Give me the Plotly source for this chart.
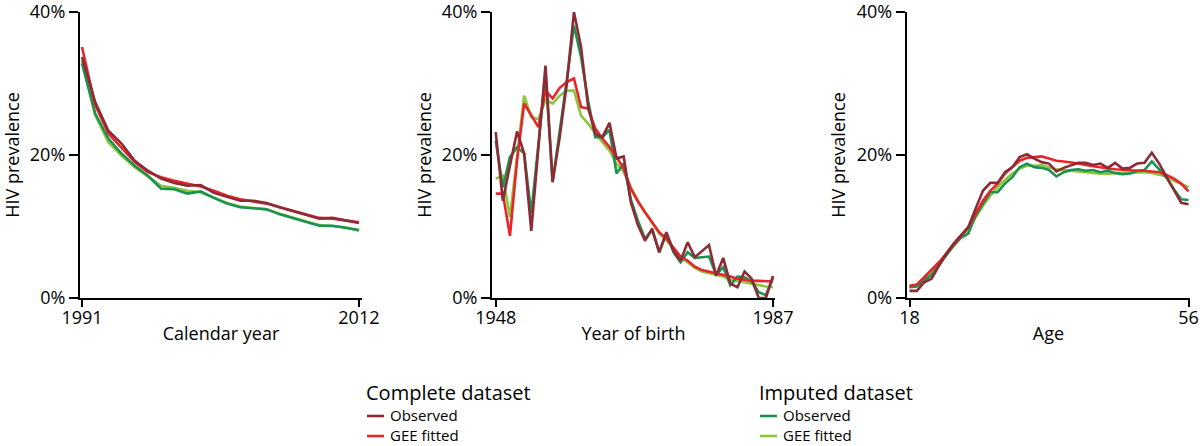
import plotly.graph_objects as go

# ---------------- Data ----------------
years = list(range(1991, 2013))
cy_obs_complete = [33.7, 27.4, 23.4, 21.6, 19.2, 17.8, 16.7, 16.1, 15.7, 15.8, 14.7, 14.1,
                   13.6, 13.6, 13.3, 12.7, 12.2, 11.7, 11.1, 11.2, 10.8, 10.5]
cy_gee_complete = [35.1, 27.0, 23.0, 21.0, 19.0, 17.6, 16.9, 16.4, 16.0, 15.6, 15.0, 14.3,
                   13.8, 13.5, 13.2, 12.7, 12.2, 11.7, 11.2, 11.1, 10.9, 10.6]
cy_obs_imputed = [32.8, 25.8, 22.3, 20.2, 18.5, 17.1, 15.3, 15.2, 14.6, 14.9, 14.0, 13.2,
                  12.7, 12.6, 12.4, 11.7, 11.2, 10.6, 10.1, 10.1, 9.8, 9.5]
cy_gee_imputed = [33.2, 25.6, 21.8, 19.9, 18.3, 17.0, 15.7, 15.4, 15.0, 14.8, 14.1, 13.3,
                  12.8, 12.6, 12.4, 11.8, 11.2, 10.7, 10.2, 10.1, 9.9, 9.4]

birth_years = list(range(1948, 1988))
yb_obs_complete = [23.2, 13.6, 18.5, 23.3, 20.2, 9.4, 21.0, 32.5, 16.2, 22.5, 30.0, 40.0,
                   35.1, 26.7, 23.0, 22.5, 24.5, 19.5, 19.8, 13.4, 10.2, 8.0, 9.7, 6.4,
                   9.2, 6.6, 5.2, 7.8, 5.7, 6.6, 7.4, 3.1, 5.6, 2.0, 1.5, 3.7, 2.7, 0.0,
                   0.0, 3.1]
yb_gee_complete = [14.6, 14.6, 8.7, 19.2, 27.2, 25.5, 23.9, 29.0, 27.9, 29.4, 30.2, 30.7,
                   26.7, 26.5, 23.7, 22.3, 21.1, 19.7, 18.1, 15.3, 13.5, 12.0, 10.6, 9.2,
                   8.3, 7.1, 5.8, 5.2, 4.4, 3.9, 3.7, 3.4, 3.2, 3.0, 2.7, 2.5, 2.4, 2.4,
                   2.3, 2.3]
yb_obs_imputed = [22.0, 15.5, 19.7, 21.1, 20.2, 11.8, 21.5, 31.5, 16.2, 23.0, 30.5, 38.1,
                  33.7, 27.6, 22.5, 22.5, 23.5, 17.4, 18.8, 13.8, 10.8, 8.3, 9.5, 6.4,
                  9.0, 6.4, 5.0, 6.4, 5.6, 5.7, 5.8, 3.3, 4.3, 1.8, 3.0, 2.9, 2.3, 0.8,
                  0.4, 2.8]
yb_gee_imputed = [16.7, 17.1, 11.3, 20.2, 28.3, 25.3, 25.0, 27.7, 27.2, 28.3, 29.0, 29.0,
                  25.5, 24.4, 23.0, 21.8, 20.6, 18.8, 17.6, 15.5, 13.6, 12.0, 10.4, 9.0,
                  8.1, 6.9, 5.7, 5.0, 4.2, 3.7, 3.5, 3.2, 3.0, 2.6, 2.4, 2.2, 2.0, 1.7,
                  1.6, 1.5]

ages = list(range(18, 57))
ag_obs_complete = [1.0, 1.0, 2.2, 2.7, 4.5, 6.2, 7.6, 8.7, 9.9, 12.5, 15.0, 16.1, 16.1,
                   17.6, 18.3, 19.7, 20.1, 19.5, 19.0, 18.8, 17.7, 18.2, 18.5, 18.9,
                   18.9, 18.6, 18.8, 18.2, 18.9, 18.1, 18.2, 18.8, 18.9, 20.3, 18.8,
                   16.9, 15.0, 13.3, 13.1]
ag_gee_complete = [1.7, 1.9, 2.9, 3.9, 5.0, 6.2, 7.4, 8.6, 9.9, 11.8, 13.6, 15.0, 16.0,
                   17.4, 18.3, 19.2, 19.6, 19.7, 19.8, 19.5, 19.2, 19.1, 19.0, 18.8,
                   18.6, 18.4, 18.3, 18.1, 18.0, 17.9, 17.9, 17.8, 17.8, 17.7, 17.6,
                   17.2, 16.7, 16.0, 14.9]
ag_obs_imputed = [1.5, 1.6, 2.5, 3.2, 4.6, 6.0, 7.3, 8.4, 9.0, 11.5, 13.2, 14.8, 14.8,
                  16.0, 16.9, 18.3, 18.8, 18.3, 18.2, 17.9, 17.0, 17.6, 17.9, 18.0,
                  17.8, 17.9, 17.6, 17.8, 17.5, 17.3, 17.4, 17.8, 17.9, 19.1, 18.0,
                  16.8, 15.2, 13.8, 13.7]
ag_gee_imputed = [1.5, 1.8, 2.7, 3.6, 4.8, 6.0, 7.3, 8.6, 9.5, 11.3, 12.9, 14.3, 15.5,
                  16.5, 17.4, 18.1, 18.5, 18.5, 18.6, 18.3, 18.0, 17.9, 17.8, 17.6,
                  17.5, 17.4, 17.4, 17.4, 17.5, 17.5, 17.5, 17.6, 17.6, 17.5, 17.3,
                  17.0, 16.4, 16.0, 15.5]

panel_x = [years, birth_years, ages]
panel_series = [
    (cy_gee_imputed, cy_obs_imputed, cy_gee_complete, cy_obs_complete),
    (yb_gee_imputed, yb_obs_imputed, yb_gee_complete, yb_obs_complete),
    (ag_gee_imputed, ag_obs_imputed, ag_gee_complete, ag_obs_complete),
]
x_titles = ["Calendar year", "Year of birth", "Age"]
x_ticks = [[1991, 2012], [1948, 1987], [18, 56]]
x_ranges = [[1990.85, 2012.23], [1947.48, 1987.28], [17.65, 56.2]]
y_ticks = [0, 20, 40]
y_ticklabels = ["0%", "20%", "40%"]
legend_groups = ["Complete dataset", "Imputed dataset"]
legend_items = ["Observed", "GEE fitted"]

# ---------------- Styles ----------------
C_OBS_COMPLETE = "#8e2a35"
C_GEE_COMPLETE = "#e6262b"
C_OBS_IMPUTED = "#1b9350"
C_GEE_IMPUTED = "#8cc63f"
series_colors = [C_GEE_IMPUTED, C_OBS_IMPUTED, C_GEE_COMPLETE, C_OBS_COMPLETE]
series_names = ["Imputed dataset – GEE fitted", "Imputed dataset – Observed",
                "Complete dataset – GEE fitted", "Complete dataset – Observed"]
legend_colors = [[C_OBS_COMPLETE, C_GEE_COMPLETE], [C_OBS_IMPUTED, C_GEE_IMPUTED]]
FONT = "Open Sans, Noto Sans, sans-serif"

W, H = 1200, 446
ML, MR, MT, MB = 80, 10, 12, 148
PW, PH = W - ML - MR, H - MT - MB
domains = [[0.0, 0.254], [0.3712, 0.6261], [0.745, 1.0]]


def px2paper_x(px):
    return (px - ML) / PW


def py2paper_y(py):
    return (H - MB - py) / PH


fig = go.Figure()
for p in range(3):
    xa = "x" if p == 0 else f"x{p+1}"
    ya = "y" if p == 0 else f"y{p+1}"
    for s in range(4):
        fig.add_trace(go.Scatter(
            x=panel_x[p], y=panel_series[p][s], mode="lines", name=series_names[s],
            line=dict(color=series_colors[s], width=2.6), xaxis=xa, yaxis=ya,
            showlegend=False,
        ))

for p in range(3):
    sfx = "" if p == 0 else str(p + 1)
    fig.update_layout(**{
        f"xaxis{sfx}": dict(
            domain=domains[p], range=x_ranges[p], tickvals=x_ticks[p],
            showline=True, linecolor="black", linewidth=2.2, ticks="outside",
            ticklen=7, tickwidth=2, tickcolor="black", showgrid=False, zeroline=False,
            tickangle=0, ticklabeloverflow="allow", ticklabelstandoff=-5,
            tickfont=dict(size=18, color="black", family=FONT),
            title=dict(text=x_titles[p], font=dict(size=18, color="black", family=FONT),
                       standoff=0),
            anchor="y" + sfx, automargin=False,
        ),
        f"yaxis{sfx}": dict(
            domain=[0, 1], range=[0, 40], tickvals=y_ticks, ticktext=y_ticklabels,
            showline=True, linecolor="black", linewidth=2.2, ticks="outside",
            ticklen=9, tickwidth=2, tickcolor="black", showgrid=False, zeroline=False,
            ticklabeloverflow="allow",
            tickfont=dict(size=18, color="black", family=FONT),
            title=dict(text="HIV prevalence", font=dict(size=18, color="black", family=FONT),
                       standoff=6),
            anchor="x" + sfx, automargin=False,
        ),
    })

# ---------------- Legend (two groups) ----------------
legend_left_px = [365, 758]
title_y_px = 392
row_y_px = [415, 435]
annotations = []
shapes = []
for g in range(2):
    x0 = legend_left_px[g]
    annotations.append(dict(
        text=legend_groups[g], x=px2paper_x(x0 - 1), y=py2paper_y(title_y_px),
        xref="paper", yref="paper", xanchor="left", yanchor="middle", showarrow=False,
        font=dict(size=20, color="black", family=FONT),
    ))
    for r in range(2):
        shapes.append(dict(
            type="line", xref="paper", yref="paper",
            x0=px2paper_x(x0 + 2), x1=px2paper_x(x0 + 19),
            y0=py2paper_y(row_y_px[r] + 1), y1=py2paper_y(row_y_px[r] + 1),
            line=dict(color=legend_colors[g][r], width=2.6),
        ))
        annotations.append(dict(
            text=legend_items[r], x=px2paper_x(x0 + 23), y=py2paper_y(row_y_px[r]),
            xref="paper", yref="paper", xanchor="left", yanchor="middle", showarrow=False,
            font=dict(size=15, color="black", family=FONT),
        ))

fig.update_layout(
    annotations=annotations, shapes=shapes, showlegend=False,
    width=W, height=H,
    margin=dict(l=ML, r=MR, t=MT, b=MB, autoexpand=False),
    paper_bgcolor="white", plot_bgcolor="white",
    font=dict(family=FONT, color="black"),
)

# Remove the default 8px page margin so the 1200x446 figure fills the window.
fig.write_html(
    "out.html",
    config={"displayModeBar": False},
    post_script="document.body.style.margin='0';document.body.style.overflow='hidden';",
)
